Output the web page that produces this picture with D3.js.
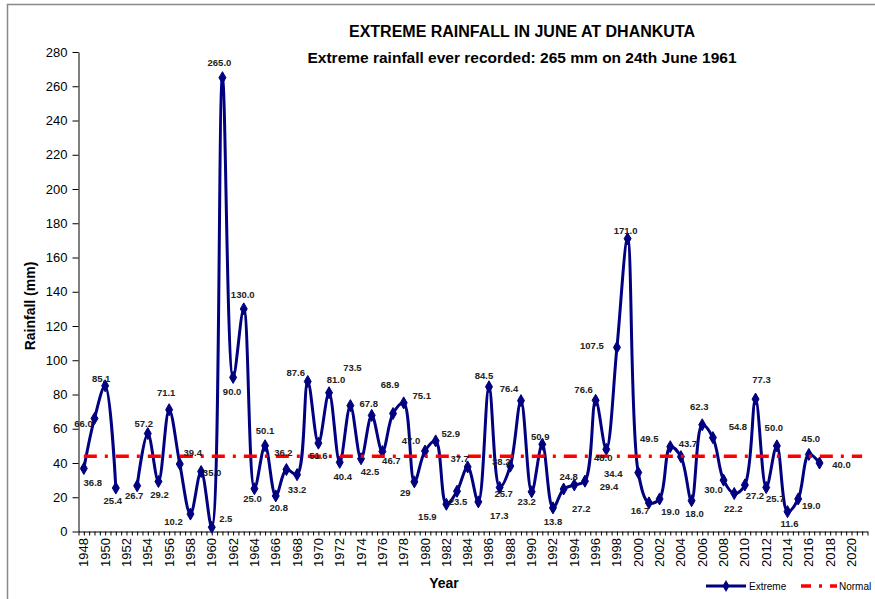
<!DOCTYPE html>
<html>
<head>
<meta charset="utf-8">
<script src="https://cdn.jsdelivr.net/npm/d3@7"></script>
<style>
  html, body { margin: 0; padding: 0; background: #fff; }
  svg { display: block; font-family: Arial, "Liberation Sans", sans-serif; }
</style>
</head>
<body>
<svg id="chart" width="875" height="599"></svg>
<script>
// ---- data ----
const years = d3.range(1948, 2018);
const extreme = [
  36.8, 66.0, 85.1, 25.4, null, 26.7, 57.2, 29.2, 71.1, 39.4,
  10.2, 35.0, 2.5, 265.0, 90.0, 130.0, 25.0, 50.1, 20.8, 36.2,
  33.2, 87.6, 51.6, 81.0, 40.4, 73.5, 42.5, 67.8, 46.7, 68.9,
  75.1, 29, 47.0, 52.9, 15.9, 23.5, 37.7, 17.3, 84.5, 25.7,
  38.2, 76.4, 23.2, 50.9, 13.8, 24.8, 27.2, 29.4, 76.6, 48.0,
  107.5, 171.0, 34.4, 16.7, 19.0, 49.5, 43.7, 18.0, 62.3, 54.8,
  30.0, 22.2, 27.2, 77.3, 25.7, 50.0, 11.6, 19.0, 45.0, 40.0
];
const dataLabels = [
  "36.8","66.0","85.1","25.4",null,"26.7","57.2","29.2","71.1","39.4",
  "10.2","35.0","2.5","265.0","90.0","130.0","25.0","50.1","20.8","36.2",
  "33.2","87.6","51.6","81.0","40.4","73.5","42.5","67.8","46.7","68.9",
  "75.1","29","47.0","52.9","15.9","23.5","37.7","17.3","84.5","25.7",
  "38.2","76.4","23.2","50.9","13.8","24.8","27.2","29.4","76.6","48.0",
  "107.5","171.0","34.4","16.7","19.0","49.5","43.7","18.0","62.3","54.8",
  "30.0","22.2","27.2","77.3","25.7","50.0","11.6","19.0","45.0","40.0"
];
const normalYears = d3.range(1948, 2022);
const normalValue = 44.0;
const yTickValues = d3.range(0, 281, 20);
const xTickLabels = d3.range(1948, 2021, 2);
const titleText = "EXTREME RAINFALL  IN JUNE AT DHANKUTA";
const subtitleText = "Extreme rainfall ever recorded: 265 mm on 24th June 1961";

// ---- layout (label placement offsets in px, as positioned on the original) ----
const labelOffsets = [
  [9,14],[-11,5],[-4,-7],[-3,13],null,[-3,10],[-4,-10],[1,13],[-3,-17],[13,-11],
  [-17,8],[11,1],[14,-9],[-3,-15],[-1,14],[-1,-14],[-2,10],[0,-15],[3,12],[-3,-17],
  [0,15],[-12,-9],[0,13],[7,-13],[3,14],[2,-38],[9,13],[-3,-12],[9,9],[-3,-29],
  [18,-7],[-9,11],[-14,-10],[15,-7],[-19,12],[1,10],[-8,-8],[21,14],[-5,-11],[4,6],
  [-9,-4],[-12,-12],[-5,10],[-2,-8],[0,14],[5,-12],[7,24],[24,6],[-12,-11],[-3,8],
  [-25,-2],[-2,-8],[-25,1],[-9,8],[11,13],[-21,-8],[7,-13],[3,13],[-3,-18],[25,-11],
  [-10,10],[-1,15],[10,11],[6,-19],[9,11],[-3,-18],[2,12],[13,7],[2,-16],[22,2]
];

const NAVY = "#000080", RED = "#ff0000";
const svg = d3.select("#chart");

// outer frame (cropped at right/bottom)
svg.append("rect").attr("x", 7.5).attr("y", 4.5).attr("width", 1000).attr("height", 1000)
  .attr("fill", "none").attr("stroke", "#888").attr("stroke-width", 1.5);

const x = d3.scaleLinear().domain([1947.5, 2021.5]).range([78.5, 867.5]);
const y = d3.scaleLinear().domain([0, 280]).range([531.5, 52]);

// y axis
const yAxis = d3.axisLeft(y).tickValues(yTickValues).tickSize(6).tickPadding(5).tickSizeOuter(0);
const gy = svg.append("g").attr("transform", "translate(78.5,0)").call(yAxis);
gy.select(".domain").attr("stroke", "#000").attr("stroke-width", 1);
gy.selectAll(".tick line").attr("stroke", "#000");
gy.selectAll("text").attr("font-size", "13px").attr("fill", "#000").attr("font-family", "Arial, 'Liberation Sans', sans-serif");

// x axis: minor ticks every half year, labels every two years
const minorTicks = d3.range(1947.5, 2021.51, 0.5);
const xAxis = d3.axisBottom(x).tickValues(minorTicks).tickSize(4).tickFormat("").tickSizeOuter(0);
const gx = svg.append("g").attr("transform", "translate(0,531.5)").call(xAxis);
gx.select(".domain").attr("stroke", "#000");
gx.selectAll(".tick line").attr("stroke", "#000");

svg.append("g").selectAll("text").data(xTickLabels).join("text")
  .attr("transform", d => `translate(${x(d) + 4.5},538) rotate(-90)`)
  .attr("text-anchor", "end")
  .attr("font-size", "13px")
  .attr("fill", "#000")
  .text(d => d);

// titles
svg.append("text").attr("x", 522).attr("y", 37).attr("text-anchor", "middle")
  .attr("font-size", "16px").attr("font-weight", "bold").text(titleText);
svg.append("text").attr("x", 522).attr("y", 63).attr("text-anchor", "middle")
  .attr("font-size", "15.5px").attr("font-weight", "bold").text(subtitleText);

svg.append("text").attr("transform", "translate(35,306) rotate(-90)").attr("text-anchor", "middle")
  .attr("font-size", "14px").attr("font-weight", "bold").text("Rainfall (mm)");
svg.append("text").attr("x", 444).attr("y", 588).attr("text-anchor", "middle")
  .attr("font-size", "14px").attr("font-weight", "bold").text("Year");

// extreme series
const pts = years.map((yr, i) => ({ yr, v: extreme[i], lab: dataLabels[i], off: labelOffsets[i] }));
const line = d3.line()
  .defined(d => d.v != null)
  .x(d => x(d.yr)).y(d => y(d.v))
  .curve(d3.curveCatmullRom.alpha(0.5));
svg.append("path").datum(pts).attr("d", line)
  .attr("fill", "none").attr("stroke", NAVY).attr("stroke-width", 3).attr("stroke-linejoin", "round");

const diamond = d3.symbol().type(d3.symbolDiamond).size(42);
svg.append("g").selectAll("path").data(pts.filter(d => d.v != null)).join("path")
  .attr("transform", d => `translate(${x(d.yr)},${y(d.v)})`)
  .attr("d", diamond).attr("fill", NAVY).attr("stroke", NAVY).attr("stroke-width", 1);

// normal series
const normalPts = normalYears.map(yr => ({ yr, v: normalValue }));
const nline = d3.line().x(d => x(d.yr)).y(d => y(d.v));
svg.append("path").datum(normalPts).attr("d", nline)
  .attr("fill", "none").attr("stroke", RED).attr("stroke-width", 3.5)
  .attr("stroke-dasharray", "13,8,3,8");

// data labels
svg.append("g").selectAll("text").data(pts.filter(d => d.v != null)).join("text")
  .attr("x", d => x(d.yr) + d.off[0])
  .attr("y", d => y(d.v) + d.off[1])
  .attr("dy", "0.35em")
  .attr("text-anchor", "middle")
  .attr("font-size", "9.5px").attr("font-weight", "bold").attr("fill", "#222")
  .text(d => d.lab);

// legend
const lg = svg.append("g");
lg.append("line").attr("x1", 706).attr("x2", 746).attr("y1", 586).attr("y2", 586)
  .attr("stroke", NAVY).attr("stroke-width", 3);
lg.append("path").attr("transform", "translate(726,586)").attr("d", diamond).attr("fill", NAVY);
lg.append("text").attr("x", 749).attr("y", 589.5).attr("font-size", "10px").text("Extreme");
lg.append("line").attr("x1", 801).attr("x2", 837).attr("y1", 586).attr("y2", 586)
  .attr("stroke", RED).attr("stroke-width", 3.5).attr("stroke-dasharray", "10,8,3,8");
lg.append("text").attr("x", 839).attr("y", 589.5).attr("font-size", "10px").text("Normal");
</script>
</body>
</html>
